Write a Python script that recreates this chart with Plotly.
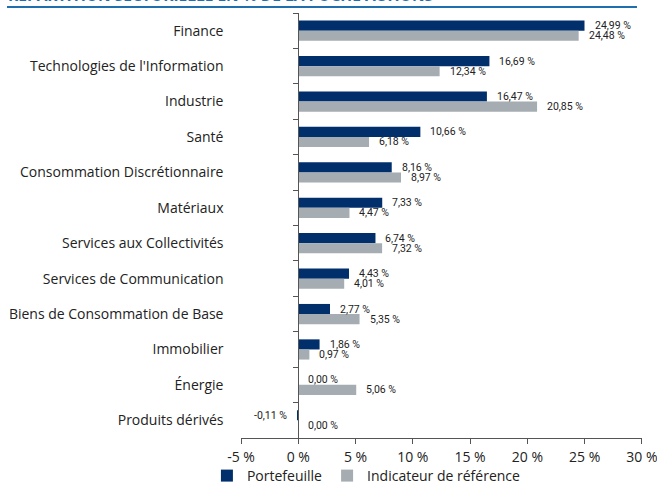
import plotly.graph_objects as go

# Sector breakdown (% of equity sleeve)
categories = [
    "Finance",
    "Technologies de l'Information",
    "Industrie",
    "Santé",
    "Consommation Discrétionnaire",
    "Matériaux",
    "Services aux Collectivités",
    "Services de Communication",
    "Biens de Consommation de Base",
    "Immobilier",
    "Énergie",
    "Produits dérivés",
]
portefeuille = [24.99, 16.69, 16.47, 10.66, 8.16, 7.33, 6.74, 4.43, 2.77, 1.86, 0.00, -0.11]
indicateur = [24.48, 12.34, 20.85, 6.18, 8.97, 4.47, 7.32, 4.01, 5.35, 0.97, 5.06, 0.00]

x_tickvals = [-5, 0, 5, 10, 15, 20, 25, 30]
x_ticktext = ["-5 %", "0 %", "5 %", "10 %", "15 %", "20 %", "25 %", "30 %"]

series_names = ["Portefeuille", "Indicateur de référence"]
NAVY = "#002F6C"
GREY = "#A5ACB2"
TEXT = "#222222"
TITLE_BLUE = "#1F6FAE"
X_MIN, X_MAX = -5, 30

label_font = dict(family="Roboto, Liberation Sans Narrow, Arial", size=10.5, color=TEXT)
main_font = dict(family="Open Sans, Lato, Arial", size=14, color=TEXT)


def fmt(v):
    return f"{v:.2f}".replace(".", ",") + " %"


fig = go.Figure()
fig.add_trace(go.Bar(y=categories, x=portefeuille, orientation="h",
                     name=series_names[0], marker=dict(color=NAVY, line=dict(width=0))))
fig.add_trace(go.Bar(y=categories, x=indicateur, orientation="h",
                     name=series_names[1], marker=dict(color=GREY, line=dict(width=0))))

# value labels next to each bar end
annotations = []
for series, shift in ((portefeuille, 5), (indicateur, -5)):
    for cat, v in zip(categories, series):
        neg = v < 0
        annotations.append(dict(
            x=v, y=cat, xref="x", yref="y", text=fmt(v), showarrow=False,
            xanchor="right" if neg else "left", xshift=-8 if neg else 8,
            yshift=shift, font=label_font,
        ))

# section heading (top edge of the page)
annotations.append(dict(
    x=-0.585, y=1, xref="paper", yref="paper", xanchor="left", yanchor="bottom",
    yshift=5, showarrow=False,
    text="<b>RÉPARTITION SECTORIELLE EN % DE LA POCHE ACTIONS</b>",
    font=dict(family="Open Sans, Lato, Arial", size=15.5, color=TITLE_BLUE),
))

fig.update_layout(
    width=657, height=484,
    margin=dict(l=241, r=15, t=13, b=46, autoexpand=False),
    paper_bgcolor="white", plot_bgcolor="white",
    barmode="group", bargap=0.43, bargroupgap=0,
    font=main_font,
    showlegend=True,
    legend=dict(orientation="h", x=-0.085, y=-0.0894, xref="paper", yref="paper",
                xanchor="left", yanchor="middle",
                font=main_font, itemwidth=30, tracegroupgap=0, traceorder="normal",
                bgcolor="rgba(0,0,0,0)"),
    annotations=annotations,
    shapes=[dict(type="line", xref="paper", yref="paper",
                 x0=-0.5835, x1=0.9875, y0=1.0141, y1=1.0141,
                 line=dict(color=TITLE_BLUE, width=2))],
)

fig.update_xaxes(
    range=[X_MIN, X_MAX + 0.01], tickvals=x_tickvals, ticktext=x_ticktext,
    showgrid=False, zeroline=False, showline=True, linecolor="#555555", linewidth=1,
    ticks="outside", ticklen=5, tickcolor="#555555", automargin=False,
    ticklabelstandoff=1, ticklabeloverflow="allow",
    tickfont=main_font,
)
fig.update_yaxes(
    type="category", categoryorder="array", categoryarray=categories,
    autorange="reversed",
    anchor="free", position=(0 - X_MIN) / (X_MAX - X_MIN),
    showgrid=False, zeroline=False, showline=True, linecolor="#555555", linewidth=1,
    ticks="outside", ticklen=5, tickcolor="#555555", tickson="boundaries",
    ticklabelstandoff=72, automargin=False,
    tickfont=main_font,
)

fig.write_html("out.html")
